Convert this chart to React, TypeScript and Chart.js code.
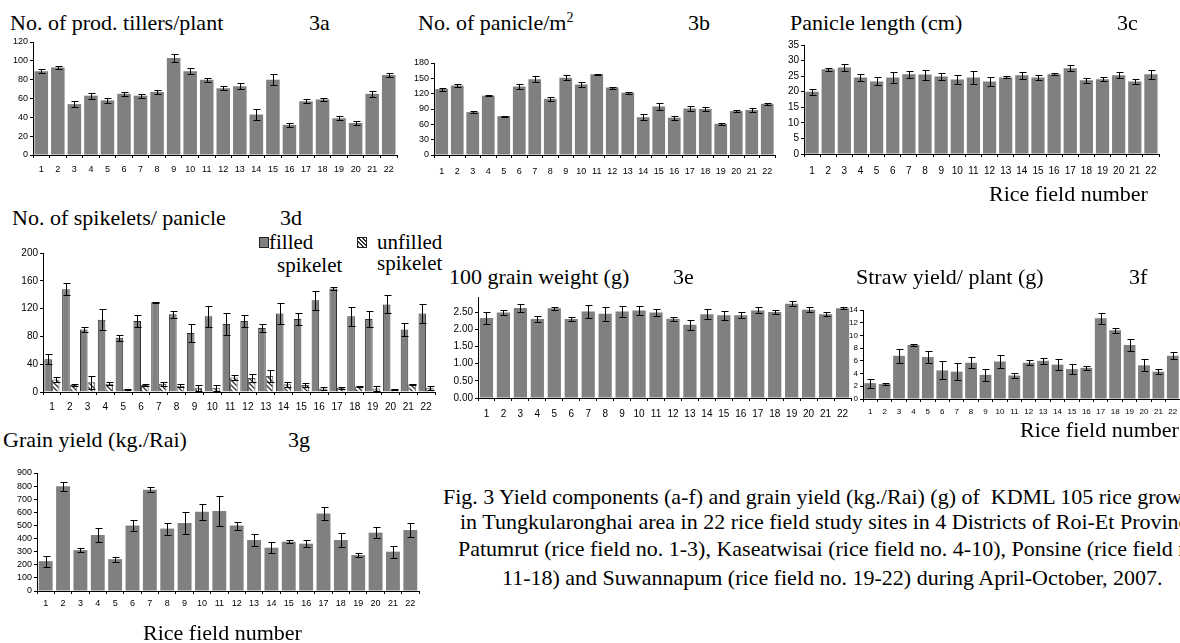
import React, { useEffect, useRef } from "react";
import { Chart, registerables } from "chart.js";
Chart.register(...registerables);

// ---------- DATA ----------
const fieldLabels = ["1","2","3","4","5","6","7","8","9","10","11","12","13","14","15","16","17","18","19","20","21","22"];

const tillers = [89, 93, 54, 63, 58, 65, 63, 67, 103, 89, 80, 71, 73, 43, 80, 32, 57, 59, 39, 34, 65, 85];
const tillersErr = [2, 2, 3, 3, 3, 2, 2, 2, 4, 3, 2, 2, 3, 6, 6, 2, 2, 2, 2, 2, 3, 2];

const panicles = [129, 136, 84, 116, 76, 134, 148, 110, 151, 138, 158, 132, 122, 74, 95, 73, 91, 90, 61, 86, 88, 100];
const paniclesErr = [3, 2, 2, 1, 1, 4, 6, 4, 5, 4, 1, 2, 2, 6, 6, 4, 4, 4, 2, 2, 3, 2];

const panicleLength = [20, 27.2, 27.8, 24.6, 23.3, 24.6, 25.6, 25.5, 24.9, 23.9, 24.6, 23.3, 24.6, 25.3, 24.6, 25.6, 27.5, 23.7, 24, 25.3, 23.3, 25.6];
const panicleLengthErr = [1, 0.5, 1, 1.2, 1.3, 1.8, 1.1, 1.6, 1, 1.5, 2.1, 1.4, 0.3, 1.1, 0.9, 0.3, 1, 0.8, 0.7, 1, 0.7, 1.5];

const filledSpikelet = [47, 148, 90, 104, 78, 102, 129, 112, 85, 109, 98, 102, 92, 113, 105, 132, 149, 109, 105, 126, 90, 113];
const filledSpikeletErr = [7, 9, 4, 15, 4, 9, 1, 5, 13, 15, 16, 9, 6, 15, 8, 14, 2, 14, 11, 13, 9, 14];
const unfilledSpikelet = [18, 10, 14, 12, 4, 10, 12, 9, 6, 6, 21, 20, 23, 11, 10, 5, 6, 8, 5, 4, 11, 6];
const unfilledSpikeletErr = [3, 2, 9, 2, 1, 1, 3, 2, 4, 4, 4, 6, 8, 4, 3, 2, 1, 1, 3, 1, 1, 3];

const grainWeight = [2.33, 2.49, 2.62, 2.3, 2.61, 2.3, 2.52, 2.45, 2.52, 2.55, 2.49, 2.31, 2.13, 2.44, 2.41, 2.41, 2.55, 2.5, 2.74, 2.57, 2.44, 2.61];
const grainWeightErr = [0.18, 0.08, 0.12, 0.1, 0.05, 0.07, 0.19, 0.2, 0.16, 0.13, 0.1, 0.06, 0.15, 0.14, 0.13, 0.08, 0.09, 0.06, 0.07, 0.07, 0.06, 0.03];

const strawYield = [2.5, 2.35, 6.8, 8.5, 6.6, 4.5, 4.3, 5.7, 3.8, 5.9, 3.7, 5.7, 6.0, 5.4, 4.7, 4.9, 12.7, 10.8, 8.5, 5.3, 4.3, 6.8];
const strawYieldErr = [0.7, 0.2, 1.1, 0.2, 0.9, 1.4, 1.3, 0.85, 0.95, 0.95, 0.4, 0.4, 0.5, 0.85, 0.8, 0.3, 0.85, 0.4, 1, 0.95, 0.4, 0.55];

const grainYield = [228, 798, 312, 427, 243, 499, 772, 476, 519, 604, 611, 499, 389, 330, 376, 361, 591, 389, 274, 445, 300, 465];
const grainYieldErr = [42, 33, 18, 50, 18, 43, 20, 46, 82, 59, 113, 31, 43, 41, 10, 28, 46, 51, 18, 43, 46, 51];

// ---------- STYLE ----------
const GRAY = "#808080";
const SERIF = "'Liberation Serif','Times New Roman',serif";
const SANS = "'Liberation Sans',Arial,sans-serif";

function makeHatch(): CanvasPattern | string {
  const c = document.createElement("canvas");
  c.width = 5;
  c.height = 5;
  const g = c.getContext("2d");
  if (!g) return "#fff";
  g.fillStyle = "#fff";
  g.fillRect(0, 0, 5, 5);
  g.strokeStyle = "#333";
  g.lineWidth = 1.3;
  g.beginPath();
  g.moveTo(-1, -1); g.lineTo(6, 6);
  g.moveTo(-1, 4); g.lineTo(1, 6);
  g.moveTo(4, -1); g.lineTo(6, 1);
  g.stroke();
  return g.createPattern(c, "repeat") || "#fff";
}

type Series = { data: number[]; err: number[]; fill: string; border?: string };
type PanelProps = {
  x0: number; x1: number; y0: number; y1: number;
  yMax: number; step: number; decimals?: number;
  font: number; labelY: number;
  series: Series[]; barPct: number; catPct: number; cap: number;
};

function BarPanel(p: PanelProps) {
  const ref = useRef<HTMLCanvasElement>(null);
  const YW = 44, PT = 10, PR = 6, XH = 30;
  const w = p.x1 - p.x0 + YW + PR;
  const h = p.y1 - p.y0 + PT + XH;
  useEffect(() => {
    const canvas = ref.current;
    if (!canvas) return;
    const hatch = makeHatch();
    const errs = p.series.map((s) => s.err);
    const errorBars = {
      id: "errorBars",
      afterDatasetsDraw(chart: any) {
        const ctx = chart.ctx;
        const ys = chart.scales.y;
        ctx.save();
        ctx.strokeStyle = "#000";
        ctx.lineWidth = 1;
        chart.data.datasets.forEach((ds: any, di: number) => {
          const e = errs[di];
          const meta = chart.getDatasetMeta(di);
          meta.data.forEach((bar: any, i: number) => {
            const v = ds.data[i] as number;
            const x = Math.round(bar.x) + 0.5;
            const yt = Math.round(ys.getPixelForValue(v + e[i])) + 0.5;
            const yb = Math.round(ys.getPixelForValue(Math.max(0, v - e[i]))) + 0.5;
            ctx.beginPath();
            ctx.moveTo(x, yt); ctx.lineTo(x, yb);
            ctx.moveTo(x - p.cap, yt); ctx.lineTo(x + p.cap + 1, yt);
            ctx.moveTo(x - p.cap, yb); ctx.lineTo(x + p.cap + 1, yb);
            ctx.stroke();
          });
        });
        ctx.restore();
      },
    };
    const tickFont = { family: SANS, size: p.font };
    const chart = new Chart(canvas, {
      type: "bar",
      data: {
        labels: fieldLabels,
        datasets: p.series.map((s) => ({
          data: s.data,
          backgroundColor: s.fill === "hatch" ? (hatch as any) : s.fill,
          borderColor: s.border ?? s.fill,
          borderWidth: s.border ? 1 : 0,
          barPercentage: p.barPct,
          categoryPercentage: p.catPct,
        })),
      },
      options: {
        animation: false,
        responsive: false,
        maintainAspectRatio: false,
        layout: { padding: { top: PT, right: PR, left: 0, bottom: 0 } },
        plugins: { legend: { display: false }, tooltip: { enabled: false } },
        scales: {
          x: {
            afterFit: (s: any) => { s.height = XH; },
            grid: { display: true, drawOnChartArea: false, drawTicks: true, tickLength: 3, color: "#000", offset: true },
            border: { display: true, color: "#000", width: 1 },
            ticks: {
              autoSkip: false, maxRotation: 0, minRotation: 0, color: "#000", font: tickFont,
              padding: Math.max(0, p.labelY - p.y1 - 3 - p.font / 2 - 1),
            },
          },
          y: {
            min: 0,
            max: p.yMax,
            afterFit: (s: any) => { s.width = YW; },
            afterBuildTicks: (s: any) => {
              s.ticks = s.ticks.filter((t: any) => Math.abs(t.value / p.step - Math.round(t.value / p.step)) < 1e-6);
            },
            grid: { display: true, drawOnChartArea: false, drawTicks: true, tickLength: 3, color: "#000" },
            border: { display: true, color: "#000", width: 1 },
            ticks: {
              autoSkip: false,
              stepSize: p.step, color: "#000", font: tickFont, padding: 2,
              callback: (v: any) => Number(v).toFixed(p.decimals ?? 0),
            },
          },
        },
      },
      plugins: [errorBars as any],
    });
    return () => chart.destroy();
  }, []);
  return (
    <canvas
      ref={ref}
      width={w}
      height={h}
      style={{ position: "absolute", left: p.x0 - YW, top: p.y0 - PT, width: w, height: h }}
    />
  );
}

function T(props: { x: number; y: number; size?: number; children: React.ReactNode }) {
  const size = props.size ?? 22;
  return (
    <div
      style={{
        position: "absolute", left: props.x, top: props.y - size / 2,
        fontFamily: SERIF, fontSize: size, lineHeight: `${size}px`,
        whiteSpace: "pre", color: "#000",
      }}
    >
      {props.children}
    </div>
  );
}

export default function App() {
  return (
    <div style={{ position: "fixed", left: 0, top: 0, width: 1180, height: 643, overflow: "hidden", background: "#fff" }}>
      {/* 3a */}
      <T x={10} y={23}>No. of prod. tillers/plant</T>
      <T x={309} y={23}>3a</T>
      <BarPanel x0={33} x1={397} y0={42} y1={155} yMax={120} step={20} font={9} labelY={170}
        series={[{ data: tillers, err: tillersErr, fill: GRAY }]} barPct={0.82} catPct={1} cap={3} />

      {/* 3b */}
      <T x={418} y={23}>No. of panicle/m<sup style={{ fontSize: 14, verticalAlign: "8px", lineHeight: 0 }}>2</sup></T>
      <T x={688} y={23}>3b</T>
      <BarPanel x0={434} x1={775} y0={63} y1={155} yMax={180} step={30} font={9} labelY={172}
        series={[{ data: panicles, err: paniclesErr, fill: GRAY }]} barPct={0.82} catPct={1} cap={3} />

      {/* 3c */}
      <T x={790} y={23}>Panicle length (cm)</T>
      <T x={1117} y={23}>3c</T>
      <BarPanel x0={804} x1={1159} y0={45} y1={154} yMax={35} step={5} font={10} labelY={171}
        series={[{ data: panicleLength, err: panicleLengthErr, fill: GRAY }]} barPct={0.82} catPct={1} cap={3} />
      <T x={989} y={194}>Rice field number</T>

      {/* 3d */}
      <T x={12} y={218}>No. of spikelets/ panicle</T>
      <T x={280} y={218}>3d</T>
      <div style={{ position: "absolute", left: 259, top: 237, width: 8, height: 9, background: GRAY, border: "1px solid #222" }} />
      <T x={269} y={242} size={21}>filled</T>
      <T x={277} y={265} size={21}>spikelet</T>
      <div style={{ position: "absolute", left: 357, top: 237, width: 8, height: 9, border: "1px solid #222",
        background: "repeating-linear-gradient(45deg, #333 0px, #333 1.3px, #fff 1.3px, #fff 3px)" }} />
      <T x={377} y={242} size={21}>unfilled</T>
      <T x={377} y={263} size={21}>spikelet</T>
      <BarPanel x0={43} x1={435} y0={253} y1={392} yMax={200} step={40} font={10} labelY={407}
        series={[
          { data: filledSpikelet, err: filledSpikeletErr, fill: GRAY, border: "#333" },
          { data: unfilledSpikelet, err: unfilledSpikeletErr, fill: "hatch", border: "#555" },
        ]} barPct={1} catPct={0.85} cap={3} />

      {/* 3e */}
      <T x={449} y={277}>100 grain weight (g)</T>
      <T x={673} y={277}>3e</T>
      <BarPanel x0={478} x1={851} y0={297} y1={398} yMax={2.94} step={0.5} decimals={2} font={10} labelY={414}
        series={[{ data: grainWeight, err: grainWeightErr, fill: GRAY }]} barPct={0.78} catPct={1} cap={3} />

      {/* 3f */}
      <T x={856} y={277}>Straw yield/ plant (g)</T>
      <T x={1129} y={277}>3f</T>
      <BarPanel x0={863} x1={1180} y0={310} y1={399} yMax={14} step={2} font={8} labelY={412}
        series={[{ data: strawYield, err: strawYieldErr, fill: GRAY }]} barPct={0.82} catPct={1} cap={3} />
      <T x={1020} y={430}>Rice field number</T>

      {/* 3g */}
      <T x={3} y={440}>Grain yield (kg./Rai)</T>
      <T x={288} y={440}>3g</T>
      <BarPanel x0={37} x1={419} y0={473} y1={591} yMax={900} step={100} font={9} labelY={604}
        series={[{ data: grainYield, err: grainYieldErr, fill: GRAY }]} barPct={0.8} catPct={1} cap={3} />
      <T x={143} y={633}>Rice field number</T>

      {/* caption */}
      <T x={443} y={497} size={22}>Fig. 3 Yield components (a-f) and grain yield (kg./Rai) (g) of  KDML 105 rice grown</T>
      <T x={460} y={522} size={22}>in Tungkularonghai area in 22 rice field study sites in 4 Districts of Roi-Et Province,</T>
      <T x={458} y={549} size={22}>Patumrut (rice field no. 1-3), Kaseatwisai (rice field no. 4-10), Ponsine (rice field no.</T>
      <T x={502} y={578} size={22}>11-18) and Suwannapum (rice field no. 19-22) during April-October, 2007.</T>
    </div>
  );
}
